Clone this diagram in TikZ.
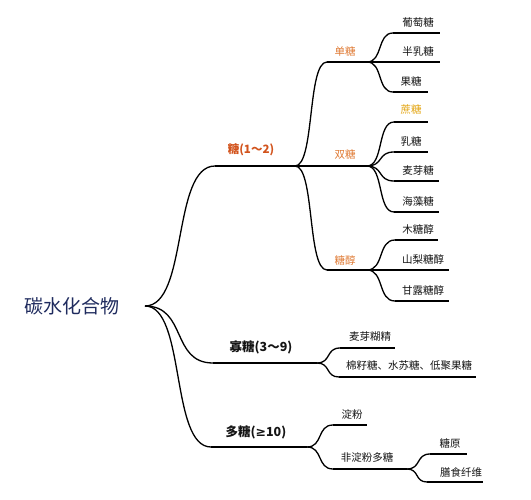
\documentclass[tikz,border=0pt]{standalone}
\usepackage{fontspec}
\setmainfont{Noto Sans CJK SC}
\newfontfamily\symfont{DejaVu Sans}
\usetikzlibrary{calc}
\definecolor{navy}{HTML}{1F2B5E}
\definecolor{redorange}{HTML}{D2531C}
\definecolor{lightorange}{HTML}{DF7A34}
\definecolor{gold}{HTML}{E3A512}
\definecolor{ink}{HTML}{141414}
\tikzset{
  conn/.style={draw=black, line width=1.3pt},
  leaf/.style={font=\fontsize{10.5}{12}\selectfont, text=ink, inner sep=0pt},
  midlbl/.style={font=\fontsize{10.5}{12}\selectfont, text=lightorange, inner sep=0pt},
  toplbl/.style={font=\fontsize{12.5}{14}\selectfont\bfseries, text=ink, inner sep=0pt},
  rootlbl/.style={font=\fontsize{19}{22}\selectfont, text=navy, inner sep=0pt},
}
\newcommand\curvelink[2]{%
  \path ($(#1)!0.62!(#2)$) coordinate (mtmpa);
  \path ($(#1)!0.38!(#2)$) coordinate (mtmpb);
  \draw[conn] (#1) .. controls (mtmpa|-#1) and (mtmpb|-#2) .. (#2);}
\begin{document}
\begin{tikzpicture}[x=1pt,y=-1pt]
\useasboundingbox (0,0) rectangle (531,500);
% root
\node[rootlbl] (root) at (72,306) {碳水化合物};
\coordinate (R) at (145,306);
% level 1
\coordinate (t1s) at (215,166); \coordinate (t1e) at (295,166);
\coordinate (t2s) at (213,363); \coordinate (t2e) at (317,363);
\coordinate (t3s) at (211,447); \coordinate (t3e) at (307,447);
\curvelink{R}{t1s} \draw[conn] (t1s) -- (t1e);
\curvelink{R}{t2s} \draw[conn] (t2s) -- (t2e);
\curvelink{R}{t3s} \draw[conn] (t3s) -- (t3e);
\node[toplbl, text=redorange, font=\fontsize{11.5}{13}\selectfont\bfseries] (sugar) at (251,150) {糖(1～2)};
\node[toplbl] (oligo) at (261,347) {寡糖(3～9)};
\node[toplbl] (poly) at (256,432) {多糖({\symfont\bfseries ≥}10)};
% level 2 under sugar
\coordinate (a1s) at (327,62); \coordinate (a1e) at (367,62);
\coordinate (a2e) at (367,166);
\coordinate (a3s) at (327,270); \coordinate (a3e) at (367,270);
\curvelink{t1e}{a1s} \draw[conn] (a1s) -- (a1e);
\draw[conn] (t1e) -- (a2e);
\curvelink{t1e}{a3s} \draw[conn] (a3s) -- (a3e);
\node[midlbl] (mono) at (345,51) {单糖};
\node[midlbl] (di) at (345,155) {双糖};
\node[midlbl] (alc) at (345,260) {糖醇};
% monosaccharides
\coordinate (m1s) at (393,33); \coordinate (m1e) at (440,33);
\coordinate (m2e) at (440,62);
\coordinate (m3s) at (393,92); \coordinate (m3e) at (428,92);
\curvelink{a1e}{m1s} \draw[conn] (m1s) -- (m1e);
\draw[conn] (a1e) -- (m2e);
\curvelink{a1e}{m3s} \draw[conn] (m3s) -- (m3e);
\node[leaf] (glu) at (418,22) {葡萄糖};
\node[leaf] (gal) at (418,51) {半乳糖};
\node[leaf] (fru) at (411,81) {果糖};
% disaccharides
\coordinate (d1s) at (394,122); \coordinate (d1e) at (428,122);
\coordinate (d2s) at (394,152); \coordinate (d2e) at (428,152);
\coordinate (d3s) at (394,181); \coordinate (d3e) at (439,181);
\coordinate (d4s) at (394,212); \coordinate (d4e) at (439,212);
\curvelink{a2e}{d1s} \draw[conn] (d1s) -- (d1e);
\curvelink{a2e}{d2s} \draw[conn] (d2s) -- (d2e);
\curvelink{a2e}{d3s} \draw[conn] (d3s) -- (d3e);
\curvelink{a2e}{d4s} \draw[conn] (d4s) -- (d4e);
\node[leaf, text=gold] (suc) at (411,110) {蔗糖};
\node[leaf] (lac) at (411,141) {乳糖};
\node[leaf] (mal) at (418,170) {麦芽糖};
\node[leaf] (tre) at (418,201) {海藻糖};
% sugar alcohols
\coordinate (s1s) at (395,240); \coordinate (s1e) at (438,240);
\coordinate (s2e) at (449,270);
\coordinate (s3s) at (395,301); \coordinate (s3e) at (449,301);
\curvelink{a3e}{s1s} \draw[conn] (s1s) -- (s1e);
\draw[conn] (a3e) -- (s2e);
\curvelink{a3e}{s3s} \draw[conn] (s3s) -- (s3e);
\node[leaf] (xyl) at (418,229) {木糖醇};
\node[leaf] (sor) at (423,259) {山梨糖醇};
\node[leaf] (man) at (423,290) {甘露糖醇};
% oligosaccharides
\coordinate (o1s) at (340,348); \coordinate (o1e) at (395,348);
\coordinate (o2s) at (339,377); \coordinate (o2e) at (476,377);
\curvelink{t2e}{o1s} \draw[conn] (o1s) -- (o1e);
\curvelink{t2e}{o2s} \draw[conn] (o2s) -- (o2e);
\node[leaf] (mdx) at (370,337) {麦芽糊精};
\node[leaf] (raf) at (409,366) {棉籽糖、水苏糖、低聚果糖};
% polysaccharides
\coordinate (p1s) at (333,425); \coordinate (p1e) at (367,425);
\coordinate (p2s) at (333,469); \coordinate (p2e) at (407,469);
\curvelink{t3e}{p1s} \draw[conn] (p1s) -- (p1e);
\curvelink{t3e}{p2s} \draw[conn] (p2s) -- (p2e);
\node[leaf] (sta) at (352,414) {淀粉};
\node[leaf] (nsp) at (367,457) {非淀粉多糖};
\coordinate (n1s) at (430,454); \coordinate (n1e) at (467,454);
\coordinate (n2s) at (427,482); \coordinate (n2e) at (483,482);
\curvelink{p2e}{n1s} \draw[conn] (n1s) -- (n1e);
\curvelink{p2e}{n2s} \draw[conn] (n2s) -- (n2e);
\node[leaf] (gly) at (450,443) {糖原};
\node[leaf] (fib) at (461,472) {膳食纤维};
\end{tikzpicture}
\end{document}
